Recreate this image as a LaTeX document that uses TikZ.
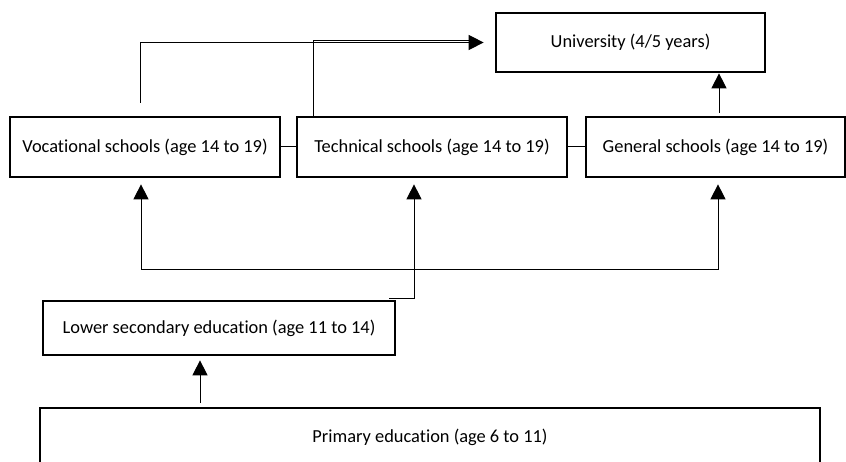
\documentclass[tikz,border=0pt]{standalone}
\usepackage{fontspec}
\setmainfont{Carlito}[RawFeature={-liga;-clig;-calt}]
\usetikzlibrary{arrows.meta}
\begin{document}
\begin{tikzpicture}[x=1pt,y=-1pt,
  box/.style={draw, line width=2.7pt, inner sep=0pt, font=\fontsize{18.4}{22}\selectfont},
  conn/.style={line width=1pt},
  arr/.style={conn, -{Triangle[length=15pt,width=15pt]}}]
\useasboundingbox (0,0) rectangle (846,462);
% boxes
\node[box, minimum width=269pt, minimum height=59pt] (uni) at (630.5,42.5) {University (4/5 years)};
\node[box, minimum width=270pt, minimum height=60pt] (voc) at (145,147) {Vocational schools (age 14 to 19)};
\node[box, minimum width=270pt, minimum height=60pt] (tech) at (432,147) {Technical schools (age 14 to 19)};
\node[box, minimum width=259pt, minimum height=60pt] (gen) at (715.5,147) {General schools (age 14 to 19)};
\node[box, minimum width=352pt, minimum height=54pt] (low) at (219,328) {Lower secondary education (age 11 to 14)};
\node[box, minimum width=780pt, minimum height=58pt] (prim) at (430,437) {Primary education (age 6 to 11)};
% coordinates
\coordinate (vs) at (140,103);
\coordinate (tj) at (470,41);
\coordinate (gs) at (719,113);
\coordinate (hl) at (141,270);
\coordinate (hr) at (718,270);
\coordinate (tb) at (414,299);
\coordinate (ls) at (389,299);
\coordinate (ps) at (200,403);
% side links
\draw[conn] (voc.east) -- (tech.west);
\draw[conn] (tech.east) -- (gen.west);
% to university
\draw[arr, shorten >=11pt] (vs) |- (uni.west);
\draw[conn] (tech.north -| 313,0) |- (tj);
\draw[arr] (gs) -- (uni.south -| gs);
% lower distribution
\draw[conn] (hl) -- (hr);
\draw[arr, shorten >=6pt] (hl) -- (voc.south -| hl);
\draw[arr, shorten >=6pt] (tb) -- (tech.south -| tb);
\draw[arr, shorten >=6pt] (hr) -- (gen.south -| hr);
\draw[conn] (tb) -- (ls);
\draw[arr, shorten >=4pt] (ps) -- (low.south -| ps);
\end{tikzpicture}
\end{document}
